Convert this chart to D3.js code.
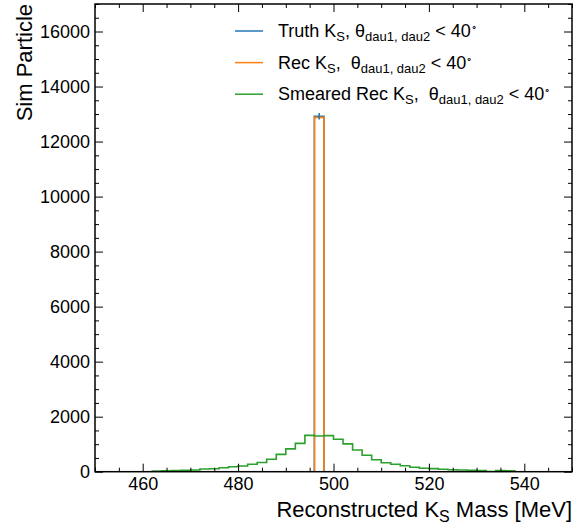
<!DOCTYPE html>
<html>
<head>
  <meta charset="utf-8">
  <style>
  body { margin: 0; background: #fff; }
  text { font-family: "Liberation Sans", Arial, sans-serif; fill: #000; }
  .hist { fill: none; stroke-width: 1.6; }
  </style>
</head>
<body>
<script src="https://cdn.jsdelivr.net/npm/d3@7"></script>
<script>
// bins of 2 MeV from 450 to 550
var binStart = 450, binWidth = 2;

var truthCounts = [0,0,0,0,0,0,0,0,0,0, 0,0,0,0,0,0,0,0,0,0, 0,0,0,12920,0,0,0,0,0,0,
                   0,0,0,0,0,0,0,0,0,0, 0,0,0,0,0,0,0,0,0,0];
var recCounts   = [0,0,0,0,0,0,0,0,0,0, 0,0,0,0,0,0,0,0,0,0, 0,0,0,12880,0,0,0,0,0,0,
                   0,0,0,0,0,0,0,0,0,0, 0,0,0,0,0,0,0,0,0,0];
var smearedCounts = [0,0,0,0,0,0,25,30,40,50, 62,100,105,146,182,207,269,335,450,630,
                     830,1030,1320,1300,1310,1180,1010,790,596,437, 328,269,219,160,124,110,87,73,62,55,
                     45,8,40,35,0,0,0,0,0,0];

var xTicks = [460, 480, 500, 520, 540];
var yTicks = [0, 2000, 4000, 6000, 8000, 10000, 12000, 14000, 16000];

var series = [
  {name: "Truth", counts: truthCounts, color: "#1f77b4", sep: ", "},
  {name: "Rec", counts: recCounts, color: "#ff7f0e", sep: ",  "},
  {name: "Smeared Rec", counts: smearedCounts, color: "#2ca02c", sep: ",  "}
];

var width = 582, height = 527;
var margin = {left: 95, right: 10, top: 4, bottom: 55.3};

var svg = d3.select("body").append("svg")
    .attr("width", width)
    .attr("height", height);

var x = d3.scaleLinear().domain([450, 550]).range([margin.left, width - margin.right]);
var y = d3.scaleLinear().domain([0, 17000]).range([height - margin.bottom, margin.top]);

var plotBottom = y.range()[0], plotTop = y.range()[1];
var plotLeft = x.range()[0], plotRight = x.range()[1];

svg.append("clipPath").attr("id", "clip")
  .append("rect")
    .attr("x", plotLeft).attr("y", plotTop)
    .attr("width", plotRight - plotLeft)
    .attr("height", plotBottom - plotTop);

// histograms as steps
function stepPoints(counts) {
  var first = counts.findIndex(function(c) { return c > 0; });
  var last = counts.length - 1;
  while (last > 0 && counts[last] === 0) last--;
  var pts = [[binStart + first * binWidth, 0]];
  for (var i = first; i <= last; i++) {
    var lo = binStart + i * binWidth;
    pts.push([lo, counts[i]], [lo + binWidth, counts[i]]);
  }
  pts.push([binStart + (last + 1) * binWidth, 0]);
  return pts;
}

var line = d3.line()
    .x(function(d) { return x(d[0]); })
    .y(function(d) { return y(d[1]); });

var plot = svg.append("g").attr("clip-path", "url(#clip)");

series.forEach(function(s) {
  plot.append("path")
      .attr("class", "hist")
      .attr("stroke", s.color)
      .attr("d", line(stepPoints(s.counts)));
});

// small error bar of the truth peak
var peak = truthCounts.findIndex(function(c) { return c > 0; });
var pc = binStart + (peak + 0.5) * binWidth;
plot.append("line")
    .attr("x1", x(pc)).attr("x2", x(pc))
    .attr("y1", y(truthCounts[peak] + Math.sqrt(truthCounts[peak])))
    .attr("y2", y(truthCounts[peak] - Math.sqrt(truthCounts[peak])))
    .attr("stroke", series[0].color).attr("stroke-width", 1.5);

// axes, ticks inward on all sides
var xMinor = d3.range(450, 551, 5).filter(function(v) { return xTicks.indexOf(v) < 0; });
var yMinor = d3.range(0, 17001, 500).filter(function(v) { return yTicks.indexOf(v) < 0; });

function styleAxis(g) {
  g.select(".domain").remove();
  g.selectAll(".tick line").attr("stroke", "#000").attr("stroke-width", 1);
  g.selectAll(".tick text").style("font-size", "18px").style("font-family", "Liberation Sans, Arial, sans-serif");
}

svg.append("g").attr("transform", "translate(0," + plotBottom + ")")
    .call(d3.axisBottom(x).tickValues(xTicks).tickSize(-8).tickPadding(6).tickFormat(d3.format("d")))
    .call(styleAxis);
svg.append("g").attr("transform", "translate(0," + plotBottom + ")")
    .call(d3.axisBottom(x).tickValues(xMinor).tickSize(-4).tickFormat(""))
    .call(styleAxis);
svg.append("g").attr("transform", "translate(0," + plotTop + ")")
    .call(d3.axisTop(x).tickValues(xTicks).tickSize(-8).tickFormat(""))
    .call(styleAxis);
svg.append("g").attr("transform", "translate(0," + plotTop + ")")
    .call(d3.axisTop(x).tickValues(xMinor).tickSize(-4).tickFormat(""))
    .call(styleAxis);

svg.append("g").attr("transform", "translate(" + plotLeft + ",0)")
    .call(d3.axisLeft(y).tickValues(yTicks).tickSize(-8).tickPadding(5).tickFormat(d3.format("d")))
    .call(styleAxis);
svg.append("g").attr("transform", "translate(" + plotLeft + ",0)")
    .call(d3.axisLeft(y).tickValues(yMinor).tickSize(-4).tickFormat(""))
    .call(styleAxis);
svg.append("g").attr("transform", "translate(" + plotRight + ",0)")
    .call(d3.axisRight(y).tickValues(yTicks).tickSize(-8).tickFormat(""))
    .call(styleAxis);
svg.append("g").attr("transform", "translate(" + plotRight + ",0)")
    .call(d3.axisRight(y).tickValues(yMinor).tickSize(-4).tickFormat(""))
    .call(styleAxis);

svg.append("rect")
    .attr("x", plotLeft).attr("y", plotTop)
    .attr("width", plotRight - plotLeft).attr("height", plotBottom - plotTop)
    .attr("fill", "none").attr("stroke", "#000").attr("stroke-width", 1.5);

// axis labels
var xl = svg.append("text")
    .attr("x", plotRight).attr("y", 517)
    .attr("text-anchor", "end")
    .style("font-size", "22px");
xl.append("tspan").text("Reconstructed K");
xl.append("tspan").attr("dy", 5).style("font-size", "16px").text("S");
xl.append("tspan").attr("dy", -5).text(" Mass [MeV]");

svg.append("text")
    .attr("transform", "translate(32," + plotTop + ") rotate(-90)")
    .attr("text-anchor", "end")
    .style("font-size", "22px")
    .text("Sim Particle");

// legend
var legend = svg.append("g");
series.forEach(function(s, i) {
  var ly = 31 + i * 31.6;
  legend.append("line")
      .attr("x1", 235).attr("x2", 263)
      .attr("y1", ly).attr("y2", ly)
      .attr("stroke", s.color).attr("stroke-width", 1.5);
  var t = legend.append("text")
      .attr("x", 278).attr("y", ly + 6)
      .style("font-size", "18px")
      .attr("xml:space", "preserve");
  t.append("tspan").text(s.name + " K");
  t.append("tspan").attr("dy", 4).style("font-size", "13px").text("S");
  t.append("tspan").attr("dy", -4).text(s.sep + "\u03b8");
  t.append("tspan").attr("dy", 4).style("font-size", "13px").text("dau1, dau2");
  t.append("tspan").attr("dy", -4).text(" < 40");
  t.append("tspan").attr("dy", -7).style("font-size", "10px").text("\u2218");
});
</script>
</body>
</html>
